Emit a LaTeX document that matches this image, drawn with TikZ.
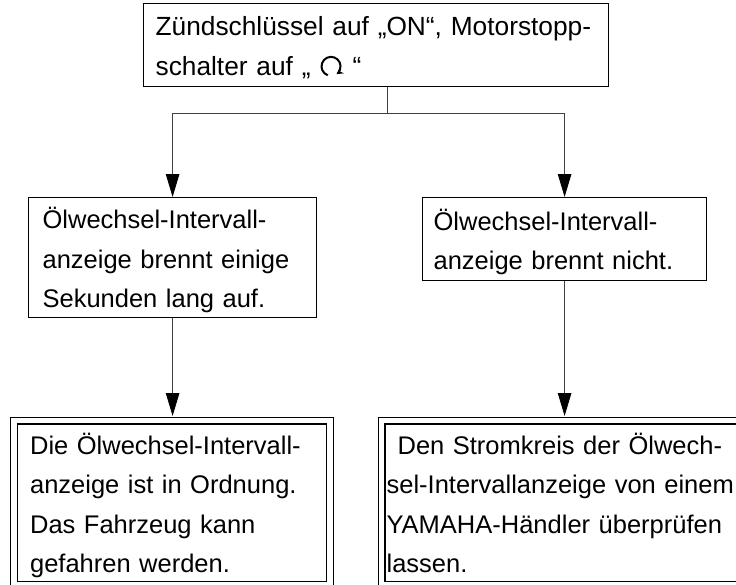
\documentclass[tikz,border=0pt]{standalone}
\usepackage{fontspec}
\setmainfont{Liberation Sans}
\usetikzlibrary{arrows.meta,positioning}

\newcommand{\boxfont}{\fontsize{25.5pt}{39.5pt}\selectfont}
\newcommand{\topfont}{\fontsize{26.3pt}{40pt}\selectfont}
\newcommand{\linestrut}{\rule[-9pt]{0pt}{39.5pt}}
% run position of the engine stop switch
\newcommand{\runsym}{\tikz[baseline,x=1pt,y=1pt]\draw[line width=2pt,-{Stealth[length=6.5pt,width=7pt]}] (0pt,9.5pt) ++(250:9.5pt) arc[start angle=250,end angle=-55,radius=9.5pt];}

\begin{document}
\begin{tikzpicture}[x=1pt,y=-1pt,% image coordinates, y downwards
        box/.style={draw, line width=1.2pt, font=\boxfont, align=left, anchor=north west, inner ysep=0pt,
                execute at begin node=\linestrut, execute at end node=\linestrut},
        endbox/.style={box, double, double distance=5.6pt},
        flow/.style={draw=black!75, line width=1pt, -{Triangle[length=23pt,width=13.5pt,color=black]}}]
\useasboundingbox (0,0) rectangle (736,584);

\node[box, font=\topfont, inner xsep=12pt, text width=441pt, minimum height=83pt] (start) at (143,3)
        {Zündschlüssel auf „ON“, Motorstopp-\\schalter auf „ \runsym{} “};

\node[box, inner xsep=14pt, text width=260pt, minimum height=120pt] (lit) at (28,197)
        {Ölwechsel-Intervall-\\anzeige brennt einige\\Sekunden lang auf.};
\node[box, inner xsep=11pt, text width=262pt, minimum height=83pt] (notlit) at (422,197)
        {Ölwechsel-Intervall-\\anzeige brennt nicht.};

\node[endbox, inner xsep=16pt, text width=284pt, minimum height=164.5pt] (ok) at (13.5,420)
        {Die Ölwechsel-Intervall-\\anzeige ist in Ordnung.\\Das Fahrzeug kann\\gefahren werden.};
\node[endbox, inner xsep=5pt, text width=400pt, minimum height=164.5pt] (check) at (381,420)
        {\hspace*{11pt}Den Stromkreis der Ölwech-\\sel-Intervallanzeige von einem\\YAMAHA-Händler überprüfen\\lassen.};

\coordinate (split) at (387,113); % branch point below the first box
\draw[draw=black!75, line width=1pt] (start.south -| split) -- (split);
\draw[flow] (split) -| (lit.north);
\draw[flow] (split) -| (notlit.north);
\foreach \a/\b in {lit/ok, notlit/check}{ % down to the result boxes
\draw[flow, shorten >=4pt] (\a.south) -- (\a.south |- \b.north);
}
\end{tikzpicture}
\end{document}
